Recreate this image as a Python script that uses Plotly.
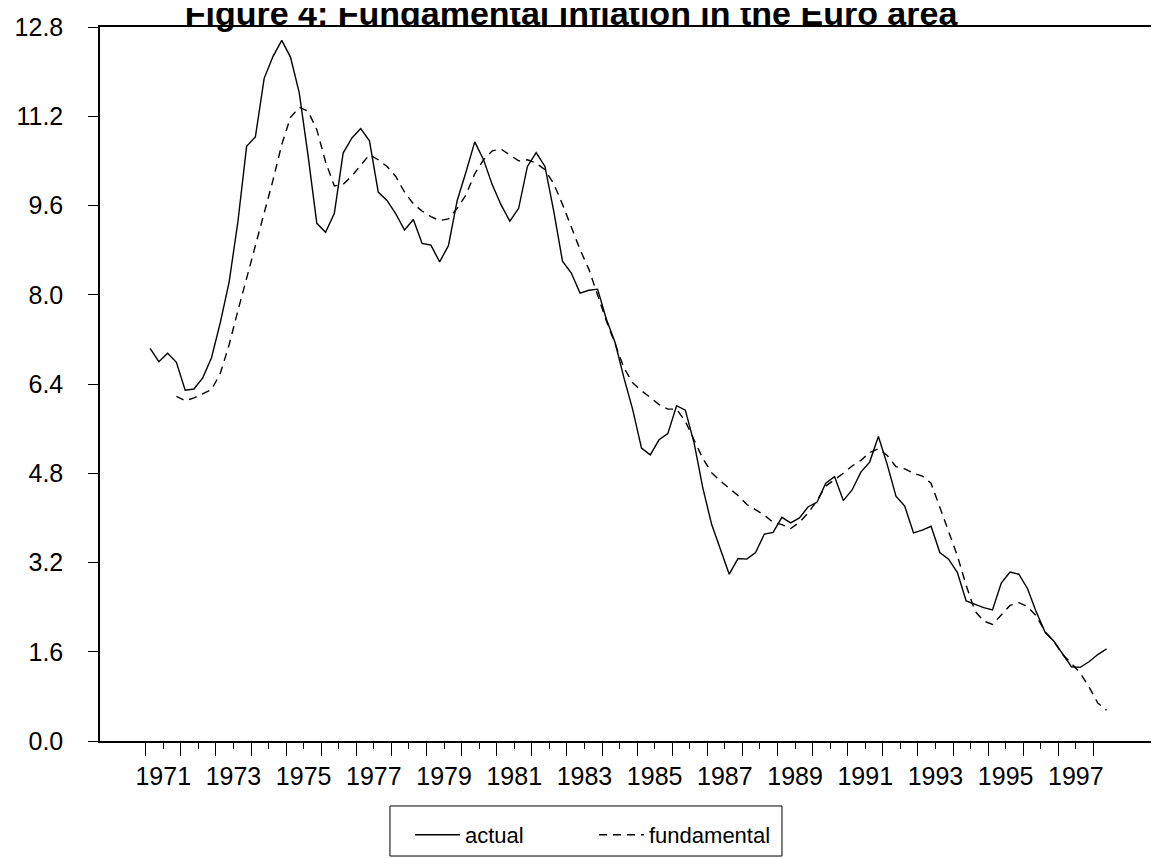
import plotly.graph_objects as go

# Quarterly data, 1971Q1 - 1998Q2
start_year = 1971
actual = [7.04, 6.80, 6.95, 6.79, 6.29, 6.31, 6.51, 6.87, 7.50, 8.22,
          9.30, 10.66, 10.83, 11.88, 12.27, 12.56, 12.26, 11.62, 10.50, 9.28,
          9.12, 9.46, 10.54, 10.81, 10.98, 10.76, 9.84, 9.69, 9.45, 9.16,
          9.35, 8.92, 8.89, 8.59, 8.88, 9.69, 10.20, 10.74, 10.42, 9.97,
          9.61, 9.32, 9.55, 10.30, 10.55, 10.30, 9.50, 8.60, 8.39, 8.03,
          8.08, 8.10, 7.56, 7.14, 6.51, 5.94, 5.25, 5.13, 5.40, 5.51,
          6.01, 5.93, 5.34, 4.53, 3.88, 3.44, 2.99, 3.27, 3.26, 3.38,
          3.71, 3.74, 4.01, 3.91, 4.00, 4.20, 4.28, 4.62, 4.74, 4.31,
          4.50, 4.82, 5.00, 5.46, 4.96, 4.39, 4.21, 3.73, 3.78, 3.85,
          3.38, 3.26, 3.02, 2.51, 2.45, 2.39, 2.35, 2.83, 3.03, 2.99,
          2.73, 2.31, 1.95, 1.79, 1.56, 1.33, 1.32, 1.42, 1.55, 1.65]

fundamental = [None, None, None,
               6.18, 6.10, 6.15, 6.23, 6.30, 6.59, 7.10,
               7.71, 8.29, 8.91, 9.48, 10.05, 10.69, 11.18, 11.36, 11.29, 10.96,
               10.38, 9.95, 9.98, 10.13, 10.33, 10.51, 10.42, 10.30, 10.12, 9.84,
               9.63, 9.50, 9.40, 9.33, 9.36, 9.55, 9.79, 10.17, 10.42, 10.58,
               10.61, 10.51, 10.40, 10.42, 10.36, 10.24, 9.99, 9.62, 9.22, 8.81,
               8.46, 7.98, 7.53, 7.12, 6.69, 6.42, 6.28, 6.16, 6.03, 5.95,
               5.95, 5.73, 5.39, 5.06, 4.81, 4.66, 4.53, 4.40, 4.24, 4.15,
               4.05, 3.92, 3.88, 3.81, 3.92, 4.09, 4.31, 4.57, 4.68, 4.80,
               4.93, 5.03, 5.17, 5.24, 5.12, 4.92, 4.88, 4.80, 4.75, 4.62,
               4.19, 3.77, 3.32, 2.79, 2.33, 2.15, 2.09, 2.26, 2.43, 2.48,
               2.41, 2.24, 1.96, 1.78, 1.55, 1.39, 1.22, 0.97, 0.68, 0.55]

label_years = list(range(1971, 1998, 2))
y_ticks = [0.0, 1.6, 3.2, 4.8, 6.4, 8.0, 9.6, 11.2, 12.8]
title_text = "Figure 4: Fundamental inflation in the Euro area"

# quarter observations plotted at the centre of each quarter
x = [start_year + (k + 0.5) / 4 for k in range(len(actual))]

half_years = [y + 0.5 for y in range(1971, 1998)]
half_text = [str(int(v - 0.5)) if int(v - 0.5) in label_years else "" for v in half_years]
year_ticks = list(range(1971, 1999))

FONT = "Liberation Sans, Arial, Helvetica, sans-serif"

fig = go.Figure()
fig.add_trace(go.Scatter(x=x, y=actual, mode="lines", name="actual",
                         line=dict(color="black", width=1.4)))
fig.add_trace(go.Scatter(x=x, y=fundamental, mode="lines", name="fundamental",
                         line=dict(color="black", width=1.4, dash="8px,6px")))

fig.update_layout(
    width=1151, height=850,
    margin=dict(l=92, r=0, t=19, b=117),
    paper_bgcolor="white", plot_bgcolor="white",
    font=dict(family=FONT, color="black"),
    title=dict(text=title_text, x=563 / 1151, xanchor="center", xref="container",
               y=0.9941, yanchor="middle", yref="container",
               font=dict(family=FONT, size=34, weight="bold", color="black")),
    showlegend=True,
    legend=dict(orientation="h", xref="container", yref="container",
                x=402 / 1151, xanchor="left", y=0.0271, yanchor="middle",
                font=dict(family=FONT, size=22, color="black"),
                bgcolor="rgba(0,0,0,0)", borderwidth=0,
                entrywidth=124, itemwidth=45),
    shapes=[dict(type="rect", xref="paper", yref="paper",
                 x0=0.2738, x1=0.644, y0=-0.1611, y1=-0.0910,
                 line=dict(color="black", width=1), fillcolor="rgba(0,0,0,0)")],
)

fig.update_xaxes(
    range=[1969.698, 1999.869],
    showline=True, linecolor="black", linewidth=1.5, mirror=True,
    showgrid=False, zeroline=False,
    tickmode="array", tickvals=half_years, ticktext=half_text,
    ticks="outside", ticklen=6, tickwidth=1, tickcolor="black",
    ticklabelstandoff=6,
    tickfont=dict(family=FONT, size=25, color="black"),
    minor=dict(tickmode="array", tickvals=year_ticks, ticks="outside",
               ticklen=13, tickwidth=1, tickcolor="black", showgrid=False),
)
fig.update_yaxes(
    range=[0, 12.8],
    showline=True, linecolor="black", linewidth=1.5, mirror=False,
    showgrid=False, zeroline=False,
    tickmode="array", tickvals=y_ticks, ticktext=[f"{v:.1f}" for v in y_ticks],
    ticks="outside", ticklen=10, tickwidth=1, tickcolor="black",
    ticklabelstandoff=20,
    tickfont=dict(family=FONT, size=25, color="black"),
)

fig.write_html("out.html")
